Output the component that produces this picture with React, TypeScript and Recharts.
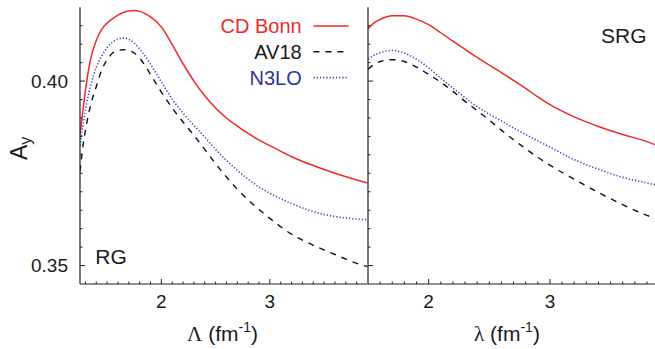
import React from 'react';
import { LineChart, Line, XAxis, YAxis } from 'recharts';

// ---------- data ----------
const lambdaRG = [1.25, 1.28, 1.31, 1.35, 1.4, 1.45, 1.5, 1.55, 1.6, 1.65, 1.7, 1.75, 1.8, 1.85, 1.9, 2.0, 2.1, 2.2, 2.3, 2.4, 2.5, 2.6, 2.7, 2.8, 2.9, 3.0, 3.2, 3.4, 3.6, 3.8, 3.9];
const cdBonnRG = [0.3855, 0.3928, 0.3995, 0.4062, 0.411, 0.414, 0.4157, 0.4169, 0.4179, 0.4186, 0.419, 0.4191, 0.4189, 0.4183, 0.4174, 0.4147, 0.4099, 0.4047, 0.4, 0.396, 0.3927, 0.39, 0.3878, 0.3858, 0.384, 0.3825, 0.3795, 0.3771, 0.375, 0.3732, 0.3724];
const av18RG = [0.3755, 0.383, 0.3883, 0.3937, 0.3985, 0.403, 0.4058, 0.4076, 0.4083, 0.4085, 0.4083, 0.4076, 0.4062, 0.4042, 0.4018, 0.397, 0.3927, 0.3889, 0.3853, 0.3815, 0.3776, 0.374, 0.3707, 0.3678, 0.3652, 0.3628, 0.3585, 0.3555, 0.353, 0.3506, 0.3497];
const n3loRG = [0.3825, 0.3885, 0.3938, 0.399, 0.4037, 0.4068, 0.4091, 0.4106, 0.4114, 0.4117, 0.4113, 0.4103, 0.4087, 0.4068, 0.4046, 0.3998, 0.3951, 0.3913, 0.388, 0.3848, 0.3815, 0.3785, 0.3758, 0.3734, 0.3713, 0.3696, 0.3668, 0.3646, 0.3633, 0.3626, 0.3624];

const lambdaSRG = [1.5, 1.55, 1.6, 1.7, 1.8, 1.9, 2.0, 2.1, 2.2, 2.3, 2.4, 2.5, 2.6, 2.7, 2.8, 2.9, 3.0, 3.2, 3.4, 3.6, 3.8, 3.9];
const cdBonnSRG = [0.4142, 0.4158, 0.4167, 0.4177, 0.4177, 0.4168, 0.4153, 0.4131, 0.4108, 0.4086, 0.4064, 0.4043, 0.4023, 0.4002, 0.398, 0.3957, 0.3936, 0.3903, 0.3877, 0.3855, 0.3836, 0.3823];
const av18SRG = [0.4032, 0.4045, 0.4053, 0.4058, 0.4053, 0.4038, 0.4018, 0.3997, 0.3972, 0.3945, 0.392, 0.3894, 0.3867, 0.3841, 0.3817, 0.3793, 0.3772, 0.3734, 0.3698, 0.3665, 0.3636, 0.3624];
const n3loSRG = [0.406, 0.407, 0.4077, 0.4083, 0.4076, 0.4059, 0.4036, 0.4008, 0.3981, 0.3955, 0.3931, 0.391, 0.3892, 0.3873, 0.3855, 0.3838, 0.3821, 0.3787, 0.3761, 0.3739, 0.3724, 0.3717];

// ---------- ticks ----------
const yTicks = [0.35, 0.355, 0.36, 0.365, 0.37, 0.375, 0.38, 0.385, 0.39, 0.395, 0.4, 0.405, 0.41, 0.415];
const yMajor = [0.35, 0.4];
const xTicksRG = [1.3, 1.4, 1.5, 1.6, 1.7, 1.8, 1.9, 2.0, 2.1, 2.2, 2.3, 2.4, 2.5, 2.6, 2.7, 2.8, 2.9, 3.0, 3.1, 3.2, 3.3, 3.4, 3.5, 3.6, 3.7, 3.8];
const xTicksSRG = [1.6, 1.7, 1.8, 1.9, 2.0, 2.1, 2.2, 2.3, 2.4, 2.5, 2.6, 2.7, 2.8, 2.9, 3.0, 3.1, 3.2, 3.3, 3.4, 3.5, 3.6, 3.7, 3.8];
const xMajor = [2, 3];
const yDomain = [0.345, 0.42];
const xDomainRG = [1.25, 3.9];
const xDomainSRG = [1.5, 3.9];

const series = [
  { key: 'cdBonn', name: 'CD Bonn', color: '#ee2a2a', text: '#ee2a2a', dash: undefined as string | undefined, width: 1.5 },
  { key: 'av18', name: 'AV18', color: '#111111', text: '#1a1a1a', dash: '6 6', width: 1.4 },
  { key: 'n3lo', name: 'N3LO', color: '#3340b8', text: '#33359c', dash: '1.2 2', width: 1.6 },
];

const rgData = lambdaRG.map((x, i) => ({ x, cdBonn: cdBonnRG[i], av18: av18RG[i], n3lo: n3loRG[i] }));
const srgData = lambdaSRG.map((x, i) => ({ x, cdBonn: cdBonnSRG[i], av18: av18SRG[i], n3lo: n3loSRG[i] }));

const FONT = '"Liberation Sans", Arial, Helvetica, sans-serif';
const AXIS = '#222';

const isIn = (v: number, arr: number[]) => arr.some((m) => Math.abs(m - v) < 1e-6);

const Tick = (p: any) => {
  const { x, y, payload, side, label, majors } = p;
  const v = payload.value as number;
  const major = isIn(v, majors);
  const len = major ? 5 : 2.5;
  let x2 = x, y2 = y;
  if (side === 'left') x2 = x + len;
  if (side === 'right') x2 = x - len;
  if (side === 'bottom') y2 = y - len;
  if (side === 'top') y2 = y + len;
  return (
    <g>
      <line x1={x} y1={y} x2={x2} y2={y2} stroke={AXIS} strokeWidth={1} />
      {label && major && side === 'left' && (
        <text x={x - 12} y={y} dy="0.36em" textAnchor="end" fontSize={19} fontFamily={FONT} fill="#1a1a1a">
          {v.toFixed(2)}
        </text>
      )}
      {label && major && side === 'bottom' && (
        <text x={x} y={y + 24} textAnchor="middle" fontSize={19} fontFamily={FONT} fill="#1a1a1a">
          {String(v)}
        </text>
      )}
    </g>
  );
};

const Panel = ({ data, xDomain, xTicks, yWidth, yLabels, width, marginRight }: any) => (
  <LineChart width={width} height={349} data={data} margin={{ top: 7.3, right: marginRight, bottom: 35, left: 0 }}>
    <XAxis
      xAxisId="b"
      dataKey="x"
      type="number"
      domain={xDomain}
      allowDataOverflow
      ticks={xTicks}
      interval={0}
      height={30}
      tickSize={0}
      tickMargin={0}
      tickLine={false}
      axisLine={{ stroke: AXIS, strokeWidth: 1.2 }}
      tick={<Tick side="bottom" label majors={xMajor} />}
    />
    <XAxis
      xAxisId="t"
      orientation="top"
      dataKey="x"
      type="number"
      domain={xDomain}
      allowDataOverflow
      ticks={xTicks}
      interval={0}
      height={0}
      tickSize={0}
      tickMargin={0}
      tickLine={false}
      axisLine={{ stroke: '#555', strokeWidth: 1.2 }}
      tick={<Tick side="top" majors={xMajor} />}
    />
    <YAxis
      yAxisId="l"
      type="number"
      domain={yDomain}
      allowDataOverflow
      ticks={yTicks}
      interval={0}
      width={yWidth}
      tickSize={0}
      tickMargin={0}
      tickLine={false}
      axisLine={{ stroke: AXIS, strokeWidth: 1.2 }}
      tick={<Tick side="left" label={yLabels} majors={yMajor} />}
    />
    <YAxis
      yAxisId="r"
      orientation="right"
      type="number"
      domain={yDomain}
      allowDataOverflow
      ticks={yTicks}
      interval={0}
      width={0}
      tickSize={0}
      tickMargin={0}
      tickLine={false}
      axisLine={{ stroke: AXIS, strokeWidth: 1.2 }}
      tick={<Tick side="right" majors={yMajor} />}
    />
    {series.map((s) => (
      <Line
        key={s.key}
        xAxisId="b"
        yAxisId="l"
        type="monotone"
        dataKey={s.key}
        name={s.name}
        stroke={s.color}
        strokeWidth={s.width}
        strokeDasharray={s.dash}
        dot={false}
        activeDot={false}
        isAnimationActive={false}
      />
    ))}
  </LineChart>
);

export default function App() {
  const legendY = [26, 51.8, 77.6];
  return (
    <div style={{ position: 'absolute', left: 0, top: 0, width: 655, height: 349, overflow: 'hidden', background: '#fff' }}>
      <div style={{ position: 'absolute', left: 0, top: 0 }}>
        <Panel data={rgData} xDomain={xDomainRG} xTicks={xTicksRG} yWidth={80} yLabels width={380} marginRight={12.5} />
      </div>
      <div style={{ position: 'absolute', left: 357.5, top: 0 }}>
        <Panel data={srgData} xDomain={xDomainSRG} xTicks={xTicksSRG} yWidth={10} yLabels={false} width={310} marginRight={8.9} />
      </div>
      <svg width={655} height={349} style={{ position: 'absolute', left: 0, top: 0, pointerEvents: 'none' }}>
        {series.map((s, i) => (
          <g key={s.key}>
            <text x={301.7} y={legendY[i] + 7.3} textAnchor="end" fontSize={20} fontFamily={FONT} fill={s.text}>
              {s.name}
            </text>
            <line x1={313.5} x2={348.5} y1={legendY[i]} y2={legendY[i]} stroke={s.color} strokeWidth={s.width} strokeDasharray={s.dash} />
          </g>
        ))}
        <text x={95.3} y={264} fontSize={21} fontFamily={FONT} fill="#1a1a1a">RG</text>
        <text x={601} y={43.3} fontSize={21} fontFamily={FONT} fill="#1a1a1a">SRG</text>
        <text x={222.5} y={341} textAnchor="middle" fontSize={21} fontFamily={FONT} fill="#1a1a1a">
          <tspan fontFamily='"Liberation Serif", "Times New Roman", serif'>Λ</tspan>
          <tspan> (fm</tspan>
          <tspan fontSize={14} dy={-9}>-1</tspan>
          <tspan dy={9}>)</tspan>
        </text>
        <text x={507} y={341} textAnchor="middle" fontSize={21} fontFamily={FONT} fill="#1a1a1a">
          <tspan fontFamily='"Liberation Serif", "Times New Roman", serif'>λ</tspan>
          <tspan> (fm</tspan>
          <tspan fontSize={14} dy={-9}>-1</tspan>
          <tspan dy={9}>)</tspan>
        </text>
        <text transform="translate(26.7,160) rotate(-90)" fontSize={23} fontFamily={FONT} fill="#1a1a1a">
          A<tspan fontSize={16} dy={4}>y</tspan>
        </text>
      </svg>
    </div>
  );
}
